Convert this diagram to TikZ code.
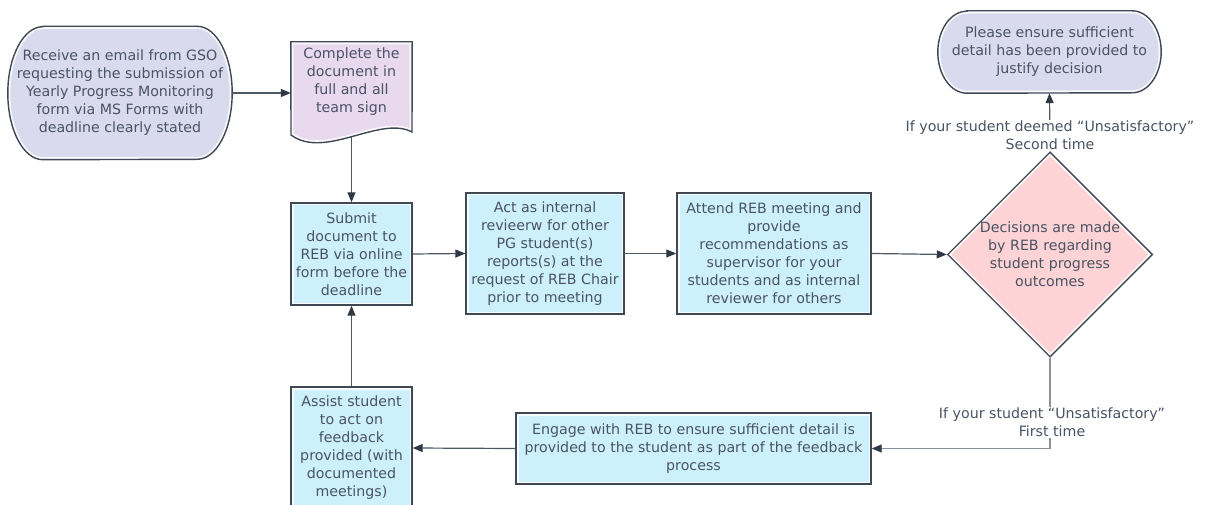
\documentclass[tikz,border=0pt]{standalone}
\usepackage{fontspec}
\setmainfont{DejaVu Sans}
\usetikzlibrary{shapes.geometric,arrows.meta,backgrounds}

\definecolor{txt}{HTML}{4A5363}
\definecolor{edge}{HTML}{3F4854}
\definecolor{wire}{HTML}{4E5865}
\definecolor{wirelight}{HTML}{8A929C}
\definecolor{tipc}{HTML}{2E3945}
\definecolor{cyanfill}{HTML}{CDF1FC}
\definecolor{lavfill}{HTML}{DADAEF}
\definecolor{lilacfill}{HTML}{E9D9EF}
\definecolor{pinkfill}{HTML}{FDD3D5}

\tikzset{
  lbl/.style={font=\fontsize{14.2}{18}\selectfont, text=txt, align=center, inner sep=0.5pt},
  hilite/.style={white, line width=5pt, opacity=0.85},
  outline/.style={draw=edge, line width=1.4pt},
  stepbox/.style={lbl, outline, fill=cyanfill, rectangle,
    path picture={\draw[hilite] (path picture bounding box.south west)
                   rectangle (path picture bounding box.north east);}},
  decision/.style={lbl, outline, fill=pinkfill, diamond, inner sep=0pt,
    path picture={\draw[hilite] (path picture bounding box.north)
                   -- (path picture bounding box.east)
                   -- (path picture bounding box.south)
                   -- (path picture bounding box.west) -- cycle;}},
  arrowtip/.style={-{Triangle[length=10pt,width=8pt,color=tipc]}},
  conn/.style={draw=wire, line width=1.2pt, arrowtip},
  connlight/.style={draw=wirelight, line width=1.2pt, arrowtip},
  cond/.style={lbl, fill=white, inner sep=1pt},
}

% terminator: straight top and bottom, elliptic ends
\newcommand\termshape[4]{%
  \fill[#4] ([xshift=#2]#1.north west) -- ([xshift=-#2]#1.north east)
    arc[start angle=90,end angle=-90,x radius=#2,y radius=#3]
    -- ([xshift=#2]#1.south west)
    arc[start angle=270,end angle=90,x radius=#2,y radius=#3] -- cycle;
  \begin{scope}
    \clip ([xshift=#2]#1.north west) -- ([xshift=-#2]#1.north east)
      arc[start angle=90,end angle=-90,x radius=#2,y radius=#3]
      -- ([xshift=#2]#1.south west)
      arc[start angle=270,end angle=90,x radius=#2,y radius=#3] -- cycle;
    \draw[hilite] ([xshift=#2]#1.north west) -- ([xshift=-#2]#1.north east)
      arc[start angle=90,end angle=-90,x radius=#2,y radius=#3]
      -- ([xshift=#2]#1.south west)
      arc[start angle=270,end angle=90,x radius=#2,y radius=#3] -- cycle;
  \end{scope}
  \draw[outline] ([xshift=#2]#1.north west) -- ([xshift=-#2]#1.north east)
    arc[start angle=90,end angle=-90,x radius=#2,y radius=#3]
    -- ([xshift=#2]#1.south west)
    arc[start angle=270,end angle=90,x radius=#2,y radius=#3] -- cycle;
}

\begin{document}
\begin{tikzpicture}[x=1pt,y=-1pt]
\useasboundingbox (0,0) rectangle (1205,505);
\clip (0,0) rectangle (1205,505);

% ---- nodes ----
\node[lbl, minimum width=224pt, minimum height=133pt] (start) at (120,93)
  {Receive an email from GSO\\requesting the submission of\\Yearly Progress Monitoring\\form via MS Forms with\\deadline clearly stated};

\node[lbl, minimum width=121pt, minimum height=80pt] (doc) at (351.5,82)
  {Complete the\\document in\\full and all\\team sign};
\coordinate (docb) at ([yshift=-55pt]doc.center);

\node[stepbox, minimum width=121pt, minimum height=102pt] (submit) at (351.5,254)
  {Submit\\document to\\REB via online\\form before the\\deadline};

\node[stepbox, minimum width=158pt, minimum height=121pt] (act) at (545,253.5)
  {Act as internal\\revieerw for other\\PG student(s)\\reports(s) at the\\request of REB Chair\\prior to meeting};

\node[stepbox, minimum width=194pt, minimum height=121pt] (attend) at (774,253.5)
  {Attend REB meeting and\\provide\\recommendations as\\supervisor for your\\students and as internal\\reviewer for others};

\node[decision, minimum width=204pt, minimum height=199pt] (dec) at (1050,254.5)
  {Decisions are made\\by REB regarding\\student progress\\outcomes};

\node[lbl, minimum width=223pt, minimum height=82pt] (top) at (1049.5,52)
  {Please ensure sufficient\\detail has been provided to\\justify decision};

\node[stepbox, minimum width=355pt, minimum height=71pt] (engage) at (693.5,448.5)
  {Engage with REB to ensure sufficient detail is\\provided to the student as part of the feedback\\process};

\node[stepbox, minimum width=121pt, minimum height=122pt] (assist) at (351.5,448)
  {Assist student\\to act on\\feedback\\provided (with\\documented\\meetings)};

% ---- shapes behind the text ----
\begin{scope}[on background layer]
  \termshape{start}{35pt}{66.5pt}{lavfill}
  \termshape{top}{29pt}{41pt}{lavfill}
  % document with wavy lower edge
  \fill[lilacfill] (doc.north west) -- (doc.north east) -- (412,132)
    .. controls (380,115) and (325,160) .. (291,135) -- cycle;
  \begin{scope}
    \clip (doc.north west) -- (doc.north east) -- (412,132)
      .. controls (380,115) and (325,160) .. (291,135) -- cycle;
    \draw[hilite] (doc.north west) -- (doc.north east) -- (412,132)
      .. controls (380,115) and (325,160) .. (291,135) -- cycle;
  \end{scope}
  \draw[outline] (doc.north west) -- (doc.north east) -- (412,132)
    .. controls (380,115) and (325,160) .. (291,135) -- cycle;
\end{scope}

% ---- connectors ----
\draw[conn] (start.east) -- (start.east -| doc.west);
\draw[conn] (docb) -- (submit.north);
\draw[conn] (submit.east) -- (act.west);
\draw[conn] (act.east) -- (attend.west);
\draw[conn] (attend.east) -- (dec.west);
\draw[conn] (dec.north) -- (top.south);
\draw[connlight] (dec.south) |- (engage.east);
\draw[conn] (engage.west) -- (assist.east);
\draw[conn] (assist.north) -- (submit.south);

% ---- conditions on the decision branches ----
\node[cond] (second) at (1050,135.5)
  {If your student deemed “Unsatisfactory”\\Second time};
\node[cond] (first) at (1052,422.5)
  {If your student “Unsatisfactory”\\First time};
\end{tikzpicture}
\end{document}
